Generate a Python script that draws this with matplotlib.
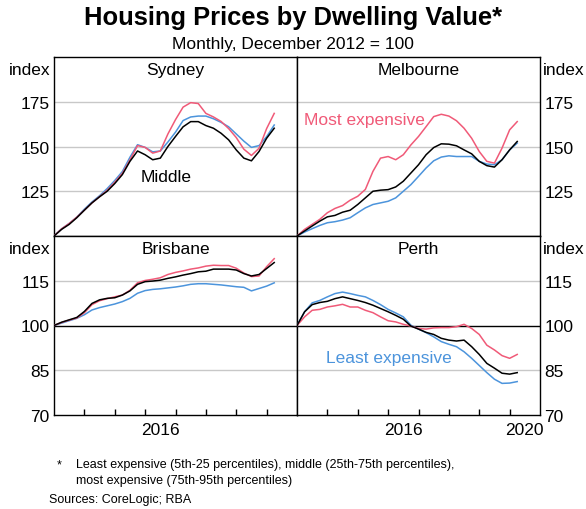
import matplotlib.pyplot as plt
import numpy as np

plt.rcParams['font.family'] = ['Liberation Sans', 'DejaVu Sans']

# quarterly readings, Dec 2012 (=100) to Mar 2020
dates = 2013 + 0.25 * np.arange(30)

syd_least = [100, 104, 107, 110.5, 115, 119, 122.5, 126.5, 131, 136, 144, 151, 149.5, 147, 147.5,
             152.5, 158, 164.5, 166.5, 167, 167, 165.5, 163.5, 161, 157, 153, 149.5, 150.5, 155.5, 162]
syd_mid = [100, 103.7, 106.5, 110.2, 114.4, 118.5, 121.9, 125, 129.3, 134.3, 141.7, 147.5, 145.4, 142.6, 143.5,
           150, 155.6, 161, 163.9, 163.9, 161.7, 160.2, 157.4, 153.7, 148.1, 143.5, 142, 147.2, 154.6, 160.2]
syd_most = [100, 104, 107, 110.5, 114.5, 118.5, 122, 125.5, 130, 135, 142.5, 150.5, 149.5, 146.3, 147.5,
            157, 165, 172, 174.5, 174, 168.5, 166.5, 164, 160, 155, 148.5, 145, 149, 160, 168.5]

mel_least = [100, 102.2, 104.1, 105.9, 107.4, 108, 108.9, 110.2, 113, 115.7, 117.6, 118.5, 119.4, 121.3, 125,
             128.7, 133.3, 138, 142, 144.1, 144.8, 144.4, 144.4, 144.4, 141.7, 140.2, 139.8, 142.6, 148.1, 151.9]
mel_mid = [100, 102.8, 105.6, 108.3, 110.7, 111.5, 113.3, 114.4, 117.6, 121.3, 125, 125.6, 125.9, 127.4, 130.6,
           135.2, 139.8, 145.4, 149.4, 151.5, 151.3, 150.4, 148.1, 145.9, 141.7, 139.3, 138.5, 142.6, 148.1, 152.8]
mel_most = [100, 103.7, 106.5, 109.3, 113, 115.4, 117, 120, 122.2, 126, 136.1, 143.5, 144.4, 142.6, 145.4,
            150.9, 155.6, 161.1, 166.7, 168, 167, 164.4, 160.2, 154.6, 147.2, 141.7, 140.7, 149.1, 159.3, 163.9]

bne_least = [100, 100.8, 101.6, 102.4, 103.6, 105.2, 106, 106.6, 107.2, 108, 109.1, 110.8, 111.7, 112.1, 112.3,
             112.6, 112.9, 113.3, 113.8, 114, 114, 113.8, 113.6, 113.3, 113, 112.8, 111.6, 112.4, 113.2, 114.3]
bne_mid = [100, 101.1, 101.9, 102.7, 104.7, 107.4, 108.6, 109.1, 109.3, 110.2, 111.6, 113.8, 114.7, 114.9, 115.2,
           115.8, 116.3, 116.9, 117.4, 118, 118.2, 118.9, 118.9, 118.9, 118.6, 117.4, 116.6, 117.1, 119.1, 121.1]
bne_most = [100, 101, 101.8, 102.5, 104.3, 107, 108.3, 109, 109.6, 110.2, 111.8, 114.3, 115.1, 115.5, 116,
            117.1, 117.8, 118.3, 118.9, 119.3, 119.9, 120.2, 120.1, 120.1, 119.2, 117.6, 116.4, 116.6, 119.7, 122.4]

per_least = [100, 104.6, 107.6, 108.4, 109.6, 110.7, 111.2, 110.7, 110.1, 109.6, 108.4, 107, 105.4, 104.2, 102.9,
             100.1, 98.8, 97.6, 96.2, 94.6, 93.7, 92.9, 91.2, 89, 86.6, 84.2, 82, 80.6, 80.7, 81.2]
per_mid = [100, 104.6, 107, 107.7, 108.1, 109, 109.6, 109, 108.4, 107.7, 106.8, 105.7, 104.6, 103.4, 102.1,
           99.8, 98.8, 97.7, 97, 95.7, 95.1, 94.8, 95.1, 92.9, 90.3, 87.3, 85.7, 84, 83.7, 84.2]
per_most = [100, 102.9, 105.1, 105.4, 106.2, 106.6, 107.1, 106.2, 106.2, 105.1, 104.3, 102.9, 101.6, 101.2, 100.4,
            99.8, 99, 98.8, 99.2, 99.3, 99.3, 99.6, 100.4, 99, 97, 93.4, 91.8, 89.9, 89, 90.3]

pink = '#F05A78'
blue = '#4C94DC'
fs = 12.5

fig = plt.figure(figsize=(5.86, 5.1), dpi=100)

W, H = 243 / 586, 179 / 510
L1, L2 = 54 / 586, 297 / 586
B1, B2 = 1 - 237 / 510, 1 - 416 / 510

panels = [
    ('Sydney', L1, B1, syd_least, syd_mid, syd_most, 'left', 'top'),
    ('Melbourne', L2, B1, mel_least, mel_mid, mel_most, 'right', 'top'),
    ('Brisbane', L1, B2, bne_least, bne_mid, bne_most, 'left', 'bottom'),
    ('Perth', L2, B2, per_least, per_mid, per_most, 'right', 'bottom'),
]

axes = {}
for name, l, b, least, mid, most, side, row in panels:
    ax = fig.add_axes([l, b, W, H])
    axes[name] = ax
    ax.set_xlim(2013, 2021)
    if row == 'top':
        ax.set_ylim(100, 200)
        yt = [125, 150, 175]
        for v in yt:
            ax.axhline(v, color='#c8c8c8', lw=1, zorder=0)
    else:
        ax.set_ylim(70, 130)
        yt = [70, 85, 100, 115]
        for v in [85, 115]:
            ax.axhline(v, color='#c8c8c8', lw=1, zorder=0)
        ax.axhline(100, color='black', lw=1, zorder=1)
    ax.plot(dates, least, color=blue, lw=1.1, zorder=3)
    ax.plot(dates, most, color=pink, lw=1.1, zorder=3)
    ax.plot(dates, mid, color='black', lw=1.1, zorder=4)

    ax.set_yticks(yt)
    ax.set_yticklabels([str(v) for v in yt], fontsize=fs)
    if side == 'right':
        ax.yaxis.tick_right()
        ax.text(1.01, 0.93, 'index', transform=ax.transAxes, ha='left', va='center', fontsize=fs)
    else:
        ax.text(-0.015, 0.93, 'index', transform=ax.transAxes, ha='right', va='center', fontsize=fs)
    ax.tick_params(axis='y', length=0, pad=3)

    if row == 'bottom':
        ax.set_xticks(np.arange(2014, 2021))
        ax.set_xticklabels([])
        ax.tick_params(axis='x', which='major', direction='in', length=4, width=1, color='black')
        yrs = [2016.5] if side == 'left' else [2016.5, 2020.5]
        ax.set_xticks(yrs, minor=True)
        ax.set_xticklabels([str(int(y)) for y in yrs], minor=True, fontsize=fs)
        ax.tick_params(axis='x', which='minor', length=0, pad=5)
    else:
        ax.set_xticks([])

    for s in ax.spines.values():
        s.set_color('black')
        s.set_linewidth(1)

    ax.text(0.5, 0.93, name, transform=ax.transAxes, ha='center', va='center', fontsize=fs)

axes['Sydney'].text(2016.69, 133, 'Middle', ha='center', va='center', fontsize=fs)
axes['Melbourne'].text(2015.21, 165.3, 'Most expensive', ha='center', va='center', fontsize=fs, color=pink)
axes['Perth'].text(2016.04, 89.3, 'Least expensive', ha='center', va='center', fontsize=fs, color=blue)

fig.text(0.5, 1 - 18 / 510, 'Housing Prices by Dwelling Value*', ha='center', va='center',
         fontsize=18.4, fontweight='bold')
fig.text(0.5, 1 - 44 / 510, 'Monthly, December 2012 = 100', ha='center', va='center', fontsize=fs)

fig.text(57 / 586, 1 - 465 / 510, '*', ha='left', va='center', fontsize=9)
fig.text(76 / 586, 1 - 465 / 510,
         'Least expensive (5th-25 percentiles), middle (25th-75th percentiles),',
         ha='left', va='center', fontsize=9)
fig.text(76 / 586, 1 - 481 / 510, 'most expensive (75th-95th percentiles)',
         ha='left', va='center', fontsize=9)
fig.text(49 / 586, 1 - 500 / 510, 'Sources: CoreLogic; RBA', ha='left', va='center', fontsize=9)

fig.savefig('out.png', dpi=100)
